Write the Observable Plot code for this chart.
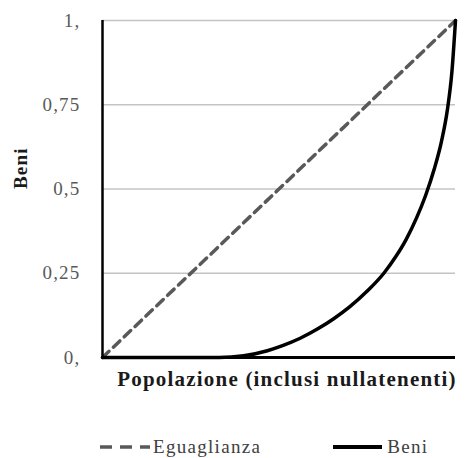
<!DOCTYPE html>
<html>
<head>
<meta charset="utf-8">
<script src="https://cdn.jsdelivr.net/npm/d3@7"></script>
<script src="https://cdn.jsdelivr.net/npm/@observablehq/plot@0.6"></script>
<style>
  body { margin: 0; background: #fff; font-family: "Liberation Serif", serif; }
  #chart { width: 467px; height: 458px; position: relative; }
  #chart svg text { letter-spacing: 1.2px; }
  .legend { position: absolute; left: 0; top: 434px; display: flex; align-items: center; height: 26px;
            font-family: "Liberation Serif", serif; font-size: 19px; color: #404040; letter-spacing: 1.3px; }
  .legend .item { display: flex; align-items: center; }
</style>
</head>
<body>
<div id="chart"></div>
<script>
// Data
const popolazione = [0, 0.33, 0.40, 0.467, 0.51, 0.56, 0.61, 0.655, 0.70, 0.75, 0.797, 0.83, 0.86, 0.89, 0.915, 0.94, 0.96, 0.977, 0.99, 1];
const beni        = [0, 0,    0.005, 0.02, 0.035, 0.057, 0.085, 0.115, 0.15, 0.197, 0.25, 0.298, 0.35, 0.415, 0.48, 0.56, 0.64, 0.735, 0.85, 1];
const eguaglianzaX = [0, 1];
const eguaglianzaY = [0, 1];
const yTicks = [0, 0.25, 0.5, 0.75, 1];
const yTickLabels = ["0,", "0,25", "0,5", "0,75", "1,"];
const xTitle = "Popolazione (inclusi nullatenenti)";
const yTitle = "Beni";
const seriesNames = ["Eguaglianza", "Beni"];

const curve = popolazione.map((x, i) => ({x, y: beni[i]}));
const equal = eguaglianzaX.map((x, i) => ({x, y: eguaglianzaY[i]}));
const serif = "'Liberation Serif', serif";

const plot = Plot.plot({
  width: 467,
  height: 400,
  marginTop: 20,
  marginBottom: 43,
  marginLeft: 102,
  marginRight: 12,
  style: { fontFamily: serif, background: "#fff" },
  x: { domain: [0, 1], axis: null },
  y: { domain: [0, 1], axis: null },
  marks: [
    Plot.ruleY(yTicks.slice(1), { stroke: "#c4c4c4", strokeWidth: 1.4 }),
    Plot.axisY({
      ticks: yTicks,
      tickSize: 0,
      tickPadding: 22,
      tickFormat: (d) => yTickLabels[yTicks.indexOf(d)],
      fontSize: 19,
      fontFamily: serif,
      fill: "#595959",
      label: null
    }),
    Plot.line(equal, { x: "x", y: "y", stroke: "#595959", strokeWidth: 3.5, strokeDasharray: "9,6" }),
    Plot.line(curve, { x: "x", y: "y", stroke: "#000", strokeWidth: 3.5, curve: "monotone-x" }),
    Plot.ruleX([0], { stroke: "#000", strokeWidth: 2.5 }),
    Plot.ruleY([0], { stroke: "#000", strokeWidth: 3 }),
    Plot.text([xTitle], { frameAnchor: "bottom", dx: 8, dy: 28, fontSize: 21, fontWeight: "bold", fontFamily: serif, fill: "#1a1a1a" }),
    Plot.text([yTitle], { frameAnchor: "left", dx: -82, rotate: -90, fontSize: 19, fontWeight: "bold", fontFamily: serif, fill: "#1a1a1a" })
  ]
});
document.getElementById("chart").appendChild(plot);

// Legend
const legend = document.createElement("div");
legend.className = "legend";
legend.innerHTML = `
  <div class="item" style="margin-left:100px">
    <svg width="50" height="10"><line x1="0" y1="5" x2="50" y2="5" stroke="#595959" stroke-width="3.5" stroke-dasharray="12,8"/></svg>
    <span style="margin-left:3px">${seriesNames[0]}</span>
  </div>
  <div class="item" style="margin-left:72px">
    <svg width="49" height="10"><line x1="0" y1="5" x2="49" y2="5" stroke="#000" stroke-width="4"/></svg>
    <span style="margin-left:5px">${seriesNames[1]}</span>
  </div>`;
document.getElementById("chart").appendChild(legend);
</script>
</body>
</html>
